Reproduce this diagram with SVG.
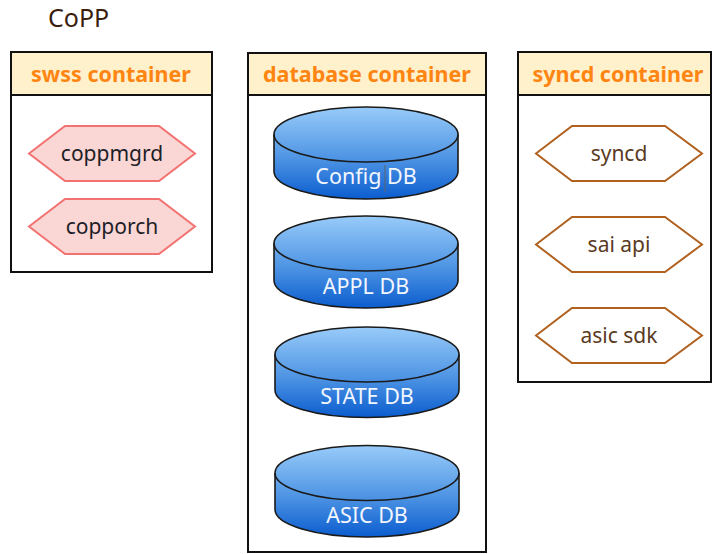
<svg xmlns="http://www.w3.org/2000/svg" width="712" height="554" viewBox="0 0 712 554">
  <defs>
    <linearGradient id="dbFill" x1="0" y1="0" x2="0" y2="1">
      <stop offset="0" stop-color="#98CBF9"/>
      <stop offset="0.55" stop-color="#4F95E4"/>
      <stop offset="1" stop-color="#0B5DCF"/>
    </linearGradient>
    <style>
      text { font-family: "Noto Sans", "Open Sans", "DejaVu Sans", sans-serif; }
      .title { font-size: 25px; fill: #3B1E0E; }
      .box { fill: #FFFFFF; stroke: #111111; stroke-width: 2; }
      .head { fill: #FFF1CB; stroke: #111111; stroke-width: 2; }
      .headText { font-size: 21.5px; font-weight: bold; fill: #FF8512; text-anchor: middle; }
      .procRed { fill: #FAD7D4; stroke: #F27272; stroke-width: 2; }
      .procRedText { font-size: 21px; fill: #1E1E28; text-anchor: middle; }
      .procBrown { fill: #FFFFFF; stroke: #B0611F; stroke-width: 2; }
      .procBrownText { font-size: 21px; fill: #5A3A22; text-anchor: middle; }
      .db { fill: url(#dbFill); stroke: #1A1A1A; stroke-width: 1.6; }
      .dbRim { fill: none; stroke: #1A1A1A; stroke-width: 1.6; }
      .dbText { font-size: 21.5px; fill: #F2F6FF; text-anchor: middle; }
    </style>
  </defs>

  <text class="title" x="48" y="27">CoPP</text>

  <!-- swss container -->
  <g id="swss-container">
    <rect class="box" x="11" y="52" width="201" height="220"/>
    <rect class="head" x="11" y="52" width="201" height="43"/>
    <text class="headText" x="111" y="82">swss container</text>
  </g>
  <g id="coppmgrd">
    <polygon class="procRed" points="29,153.5 65,126 159,126 195,153.5 159,181 65,181"/>
    <text class="procRedText" x="112" y="161">coppmgrd</text>
  </g>
  <g id="copporch">
    <polygon class="procRed" points="29,226.5 65,199 159,199 195,226.5 159,254 65,254"/>
    <text class="procRedText" x="112" y="234">copporch</text>
  </g>

  <!-- database container -->
  <g id="database-container">
    <rect class="box" x="248" y="53" width="238" height="499"/>
    <rect class="head" x="248" y="53" width="238" height="42"/>
    <text class="headText" x="367" y="82">database container</text>
  </g>
  <g id="config-db">
    <path class="db" d="M274,134.5 A92,27.5 0 0 1 458,134.5 L458,171.5 A92,27.5 0 0 1 274,171.5 Z"/>
    <path class="dbRim" d="M274,134.5 A92,27.5 0 0 0 458,134.5"/>
    <text class="dbText" x="366" y="184">Config DB</text>
    <line x1="385" y1="165" x2="385" y2="192" stroke="#5A6470" stroke-width="1"/>
  </g>
  <g id="appl-db">
    <path class="db" d="M274,243.5 A92,27.5 0 0 1 458,243.5 L458,280.5 A92,27.5 0 0 1 274,280.5 Z"/>
    <path class="dbRim" d="M274,243.5 A92,27.5 0 0 0 458,243.5"/>
    <text class="dbText" x="366" y="294">APPL DB</text>
  </g>
  <g id="state-db">
    <path class="db" d="M275,354.5 A92,27.5 0 0 1 459,354.5 L459,390 A92,27.5 0 0 1 275,390 Z"/>
    <path class="dbRim" d="M275,354.5 A92,27.5 0 0 0 459,354.5"/>
    <text class="dbText" x="367" y="404">STATE DB</text>
  </g>
  <g id="asic-db">
    <path class="db" d="M275,473 A92,27.5 0 0 1 459,473 L459,509.5 A92,27.5 0 0 1 275,509.5 Z"/>
    <path class="dbRim" d="M275,473 A92,27.5 0 0 0 459,473"/>
    <text class="dbText" x="367" y="523">ASIC DB</text>
  </g>

  <!-- syncd container -->
  <g id="syncd-container">
    <rect class="box" x="518" y="52" width="193" height="330"/>
    <rect class="head" x="518" y="52" width="193" height="43"/>
    <text class="headText" x="618" y="82">syncd container</text>
  </g>
  <g id="syncd">
    <polygon class="procBrown" points="536,153.5 572,126 665,126 702,153.5 665,181 572,181"/>
    <text class="procBrownText" x="619" y="161">syncd</text>
  </g>
  <g id="sai-api">
    <polygon class="procBrown" points="536,244.5 572,217 665,217 702,244.5 665,272 572,272"/>
    <text class="procBrownText" x="619" y="252">sai api</text>
  </g>
  <g id="asic-sdk">
    <polygon class="procBrown" points="536,335.5 572,308 665,308 702,335.5 665,363 572,363"/>
    <text class="procBrownText" x="619" y="343">asic sdk</text>
  </g>

  <!-- no connectors are drawn between the containers -->
  <g id="connectors"/>
</svg>
